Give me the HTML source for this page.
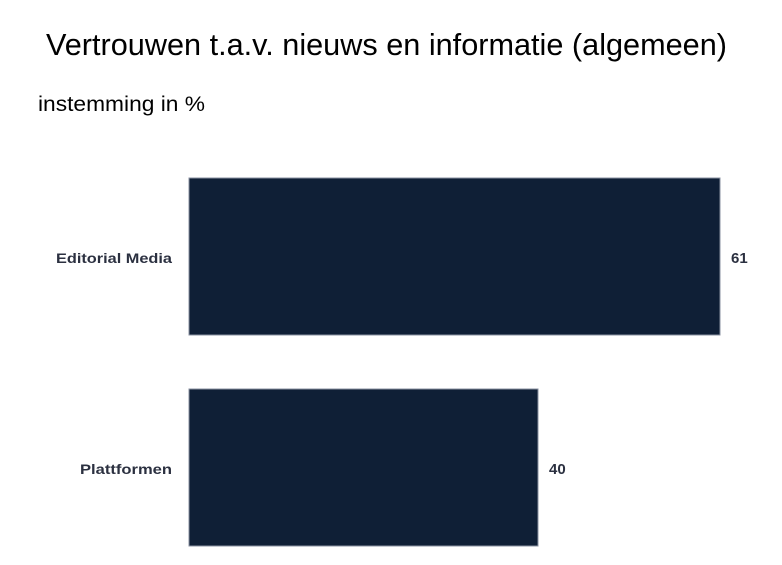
<!DOCTYPE html>
<html><head><meta charset="utf-8"><style>html,body{margin:0;padding:0;background:#fff}svg{display:block}</style></head>
<body>
<svg width="782" height="565" xmlns="http://www.w3.org/2000/svg">
<rect width="782" height="565" fill="#fff"/>
<text x="46" y="55" font-family="Liberation Sans, sans-serif" font-size="31" fill="#000" textLength="681" lengthAdjust="spacingAndGlyphs">Vertrouwen t.a.v. nieuws en informatie (algemeen)</text>
<text x="38" y="111" font-family="Liberation Sans, sans-serif" font-size="21" fill="#000" textLength="167" lengthAdjust="spacingAndGlyphs">instemming in %</text>
<rect x="189" y="178" width="531" height="157" fill="#0f1f36" stroke="#8a90a0" stroke-width="1"/>
<rect x="189" y="389" width="349" height="157" fill="#0f1f36" stroke="#8a90a0" stroke-width="1"/>
<g font-family="Liberation Sans, sans-serif" font-size="14" font-weight="bold" fill="#2b3040">
<text x="172" y="263" text-anchor="end" textLength="116" lengthAdjust="spacingAndGlyphs">Editorial Media</text>
<text x="172" y="474" text-anchor="end" textLength="92" lengthAdjust="spacingAndGlyphs">Plattformen</text>
<text x="731" y="263" font-size="15">61</text>
<text x="549" y="474" font-size="15">40</text>
</g>
</svg>
</body></html>
